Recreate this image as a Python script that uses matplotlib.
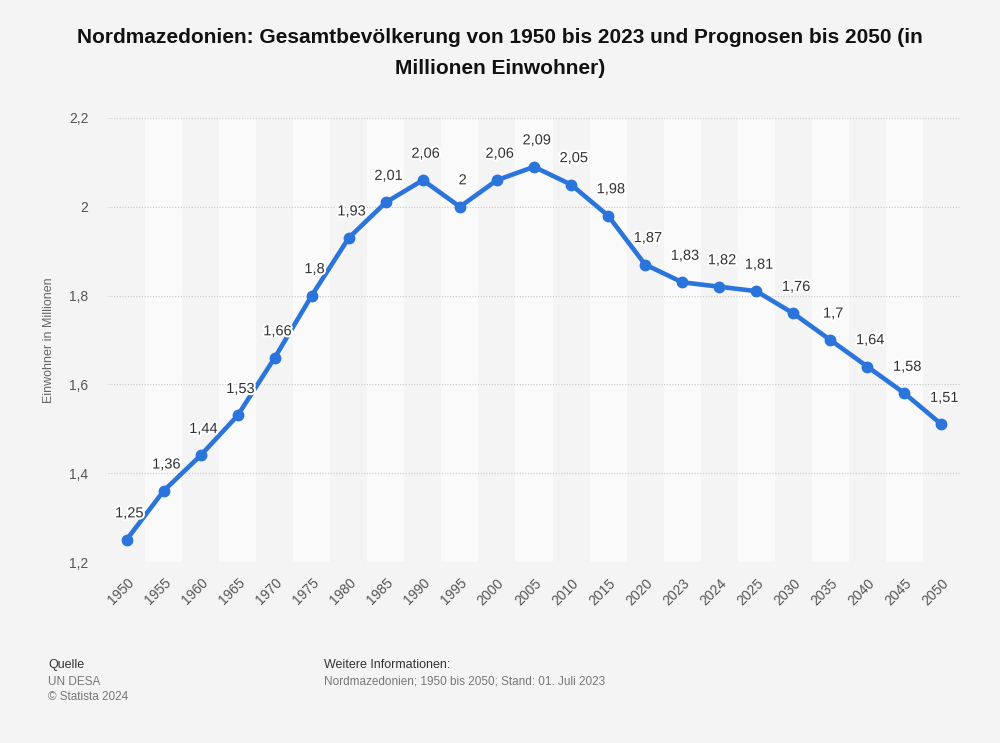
import matplotlib
matplotlib.use("Agg")
import matplotlib.pyplot as plt
import matplotlib.patheffects as pe

# Daten
jahre = ["1950", "1955", "1960", "1965", "1970", "1975", "1980", "1985", "1990", "1995",
         "2000", "2005", "2010", "2015", "2020", "2023", "2024", "2025", "2030", "2035",
         "2040", "2045", "2050"]
einwohner = [1.25, 1.36, 1.44, 1.53, 1.66, 1.8, 1.93, 2.01, 2.06, 2.0,
             2.06, 2.09, 2.05, 1.98, 1.87, 1.83, 1.82, 1.81, 1.76, 1.7,
             1.64, 1.58, 1.51]
y_ticks = [1.2, 1.4, 1.6, 1.8, 2.0, 2.2]

plt.rcParams["font.family"] = ["Liberation Sans", "DejaVu Sans"]

def de(v):
    return f"{v:g}".replace(".", ",")

fig = plt.figure(figsize=(10, 7.43), dpi=100)
fig.patch.set_facecolor("#f4f4f4")
ax = fig.add_axes([0.108, 0.2436, 0.852, 0.5976])
ax.set_facecolor("#f4f4f4")

x = list(range(len(jahre)))

# abwechselnde Hintergrundstreifen
for i in x:
    if i % 2 == 1:
        ax.axvspan(i - 0.5, i + 0.5, color="#fafafa", lw=0, zorder=0)

for t in y_ticks:
    ax.axhline(t, color="#c8c8c8", lw=0.8, ls=(0, (1, 1.5)), zorder=1)

ax.plot(x, einwohner, color="#2a74db", lw=3.3, marker="o", markersize=7.5,
        solid_capstyle="round", solid_joinstyle="round", zorder=3)

for xi, v in zip(x, einwohner):
    ax.annotate(de(v), (xi, v), xytext=(2, 14), textcoords="offset points",
                ha="center", va="bottom", fontsize=10.5, color="#333333", zorder=4,
                path_effects=[pe.withStroke(linewidth=3, foreground="white")])

ax.set_xlim(-0.5, len(jahre) - 0.5)
ax.set_ylim(1.2, 2.2)
ax.set_yticks(y_ticks)
ax.set_yticklabels([de(t) for t in y_ticks])
ax.set_xticks(x)
ax.set_xticklabels(jahre, rotation=45, ha="right", rotation_mode="anchor")
ax.tick_params(axis="both", length=0, labelsize=10, labelcolor="#555555")
ax.tick_params(axis="y", pad=14)
ax.tick_params(axis="x", pad=10)
for s in ax.spines.values():
    s.set_visible(False)

ax.set_ylabel("Einwohner in Millionen", fontsize=9, color="#666666", labelpad=0)
ax.yaxis.set_label_coords(-0.062, 0.5)

fig.text(0.5, 0.949, "Nordmazedonien: Gesamtbevölkerung von 1950 bis 2023 und Prognosen bis 2050 (in",
         ha="center", va="center", fontsize=15, fontweight="bold", color="#111111")
fig.text(0.5, 0.908, "Millionen Einwohner)",
         ha="center", va="center", fontsize=15, fontweight="bold", color="#111111")

# Fußzeile
fig.text(0.048, 1 - 665 / 743, "Quelle", fontsize=9, color="#333333", va="center")
fig.text(0.048, 1 - 682 / 743, "UN DESA", fontsize=8.5, color="#777777", va="center")
fig.text(0.048, 1 - 697 / 743, "© Statista 2024", fontsize=8.5, color="#777777", va="center")
fig.text(0.324, 1 - 665 / 743, "Weitere Informationen:", fontsize=9, color="#333333", va="center")
fig.text(0.324, 1 - 682 / 743, "Nordmazedonien; 1950 bis 2050; Stand: 01. Juli 2023",
         fontsize=8.5, color="#777777", va="center")

plt.savefig("out.png", dpi=100, facecolor=fig.get_facecolor())
